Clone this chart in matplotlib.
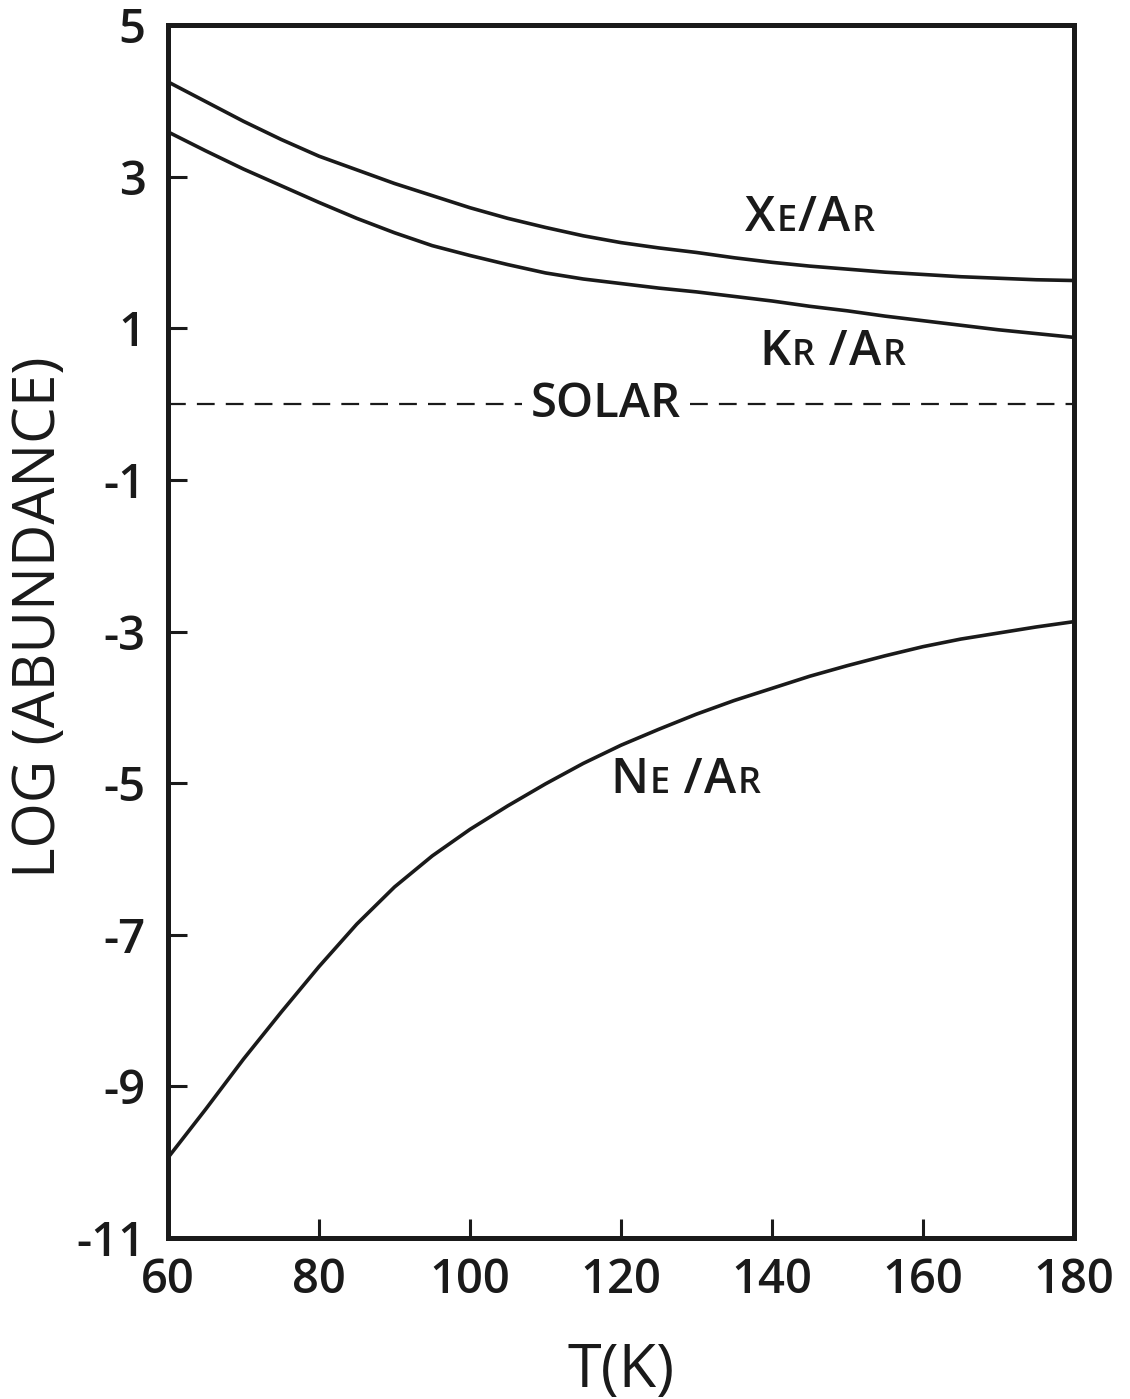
import numpy as np
import matplotlib
matplotlib.use("Agg")
import matplotlib.pyplot as plt
from matplotlib.offsetbox import TextArea, HPacker, AnnotationBbox

plt.rcParams['font.family'] = ['Open Sans', 'DejaVu Sans']

# temperature grid (K), every 5 K
T = [60, 65, 70, 75, 80, 85, 90, 95, 100, 105, 110, 115, 120,
     125, 130, 135, 140, 145, 150, 155, 160, 165, 170, 175, 180]

# log abundance ratios
xe_ar = [4.25, 3.99, 3.73, 3.49, 3.27, 3.09, 2.91, 2.75, 2.59, 2.45, 2.33, 2.22, 2.13,
         2.06, 2.00, 1.93, 1.87, 1.82, 1.78, 1.74, 1.71, 1.68, 1.66, 1.64, 1.63]
kr_ar = [3.59, 3.34, 3.10, 2.88, 2.66, 2.45, 2.26, 2.09, 1.96, 1.84, 1.73, 1.65, 1.59,
         1.53, 1.48, 1.42, 1.36, 1.29, 1.23, 1.16, 1.10, 1.04, 0.98, 0.93, 0.88]
ne_ar = [-9.94, -9.30, -8.64, -8.02, -7.42, -6.86, -6.37, -5.96, -5.61, -5.30, -5.01, -4.74, -4.50,
         -4.29, -4.09, -3.91, -3.75, -3.59, -3.45, -3.32, -3.20, -3.10, -3.02, -2.94, -2.87]

# solar reference level and where the dashed line is broken for its label
solar = 0.0
solar_left = [60, 106.9]
solar_right = [129.2, 180]

xticks = [60, 80, 100, 120, 140, 160, 180]
yticks = [5, 3, 1, -1, -3, -5, -7, -9, -11]
ytick_labels = ["5", "3", "1", "-1", "-3", "-5", "-7", "-9", "-11"]

ink = '#1a1a1a'

fig = plt.figure(figsize=(11.3, 13.99), dpi=100)
ax = fig.add_axes([0.1487, 0.1151, 0.8017, 0.867])

ax.plot(T, xe_ar, color=ink, lw=2.6)
ax.plot(T, kr_ar, color=ink, lw=2.6)
ax.plot(T, ne_ar, color=ink, lw=2.6)
ax.plot(solar_left, [solar, solar], color=ink, lw=1.6, dashes=(8, 5))
ax.plot(solar_right, [solar, solar], color=ink, lw=1.6, dashes=(8, 5))

ax.set_xlim(60, 180)
ax.set_ylim(-11, 5)
ax.set_xticks(xticks)
ax.set_xticklabels([str(t) for t in xticks])
ax.set_yticks(yticks)
ax.set_yticklabels(ytick_labels)

for s in ax.spines.values():
    s.set_linewidth(3.6)
    s.set_color(ink)
ax.tick_params(direction='in', length=14, width=2.2, color=ink,
               labelsize=34, labelcolor=ink)
ax.tick_params(axis='y', pad=16)
ax.tick_params(axis='x', pad=14)
for lab in ax.get_xticklabels() + ax.get_yticklabels():
    lab.set_fontweight('semibold')

ax.set_xlabel("T(K)", fontsize=44, color=ink, labelpad=26)
# y label placed by hand so it stays inside the figure
fig.text(40 / 1130, 0.559, "LOG (ABUNDANCE)", fontsize=42, color=ink,
         rotation=90, ha='center', va='center')


# small-caps style labels: big capitals, smaller second letters
def smallcaps(parts, xy):
    boxes = []
    for txt, big in parts:
        boxes.append(TextArea(txt, textprops=dict(fontsize=35 if big else 26,
                                                  color=ink, fontweight='semibold')))
    pack = HPacker(children=boxes, align="baseline", pad=0, sep=1)
    ab = AnnotationBbox(pack, xy, frameon=False, box_alignment=(0.5, 0.5))
    ax.add_artist(ab)


smallcaps([("X", True), ("E", False), ("/", True), ("A", True), ("R", False)], (145.0, 2.45))
smallcaps([("K", True), ("R", False), (" /", True), ("A", True), ("R", False)], (148.0, 0.68))
smallcaps([("N", True), ("E", False), (" /", True), ("A", True), ("R", False)], (128.5, -4.97))
ax.text(118.0, solar, "SOLAR", fontsize=34, color=ink, fontweight='semibold',
        ha='center', va='center')

fig.savefig("out.png", dpi=100)
